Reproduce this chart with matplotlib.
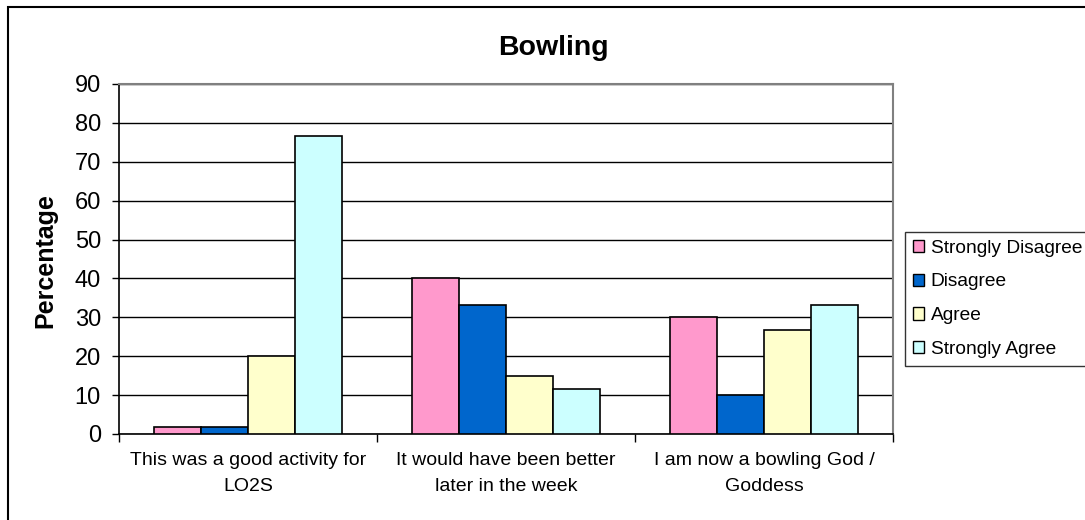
import matplotlib
matplotlib.use("Agg")
import matplotlib.pyplot as plt
import numpy as np
from matplotlib.patches import Rectangle

categories = ["This was a good activity for\nLO2S",
              "It would have been better\nlater in the week",
              "I am now a bowling God /\nGoddess"]
series_names = ["Strongly Disagree", "Disagree", "Agree", "Strongly Agree"]
strongly_disagree = [1.7, 40.0, 30.0]
disagree = [1.7, 33.3, 10.0]
agree = [20.0, 15.0, 26.7]
strongly_agree = [76.7, 11.7, 33.3]
yticks = [0, 10, 20, 30, 40, 50, 60, 70, 80, 90]

colors = ["#FF99CC", "#0066CC", "#FFFFCC", "#CCFFFF"]

plt.rcParams['font.family'] = ['Liberation Sans', 'DejaVu Sans']

W, H = 1085, 520
fig = plt.figure(figsize=(W/100, H/100), dpi=100)
ax = fig.add_axes([119/W, 1-434/H, (893-119)/W, (434-84)/H])

values = [strongly_disagree, disagree, agree, strongly_agree]
n = len(series_names)
w = 1/5.5
x = np.arange(len(categories))
for i, (name, vals, c) in enumerate(zip(series_names, values, colors)):
    ax.bar(x + (i - (n-1)/2)*w, vals, width=w, color=c, edgecolor="black",
           linewidth=1.2, label=name, zorder=3)

ax.set_xlim(-0.5, len(categories)-0.5)
ax.set_ylim(0, 90)
ax.set_yticks(yticks)
ax.yaxis.grid(True, color="black", linewidth=1.0, zorder=0)
ax.set_axisbelow(True)
ax.tick_params(axis='y', labelsize=17, direction='out', length=5, width=1, pad=8)
ax.set_xticks(x)
ax.set_xticklabels(categories, fontsize=14, linespacing=1.7)
ax.tick_params(axis='x', length=0, pad=13)
ax.set_xticks(np.arange(len(categories)+1) - 0.5, minor=True)
ax.tick_params(axis='x', which='minor', length=6, width=1, direction='out')

for s in ['top', 'right']:
    ax.spines[s].set_color("#808080")
    ax.spines[s].set_linewidth(1.5)
for s in ['left', 'bottom']:
    ax.spines[s].set_color("black")
    ax.spines[s].set_linewidth(1.2)

fig.text(45/W, 1-261/H, "Percentage", fontsize=18, fontweight='bold', rotation=90,
         ha='center', va='center')
fig.text(553/W, 1-55/H, "Bowling", fontsize=20.5, fontweight='bold', ha='center', va='baseline')

leg = fig.legend(loc='upper left', bbox_to_anchor=(905/W, 1-232/H), fontsize=13.8,
                 frameon=True, fancybox=False, edgecolor='black', handlelength=0.6,
                 handleheight=0.6, handletextpad=0.35, labelspacing=0.875, borderaxespad=0,
                 borderpad=0.4)
leg.get_frame().set_linewidth(1.0)
for h in leg.legend_handles:
    h.set_linewidth(1.0)

fig.patches.append(Rectangle((8/W, -0.1), 1.2, 1-7/H+0.1, transform=fig.transFigure,
                             fill=False, edgecolor='black', linewidth=1.5, clip_on=False))

fig.savefig("out.png", dpi=100)
